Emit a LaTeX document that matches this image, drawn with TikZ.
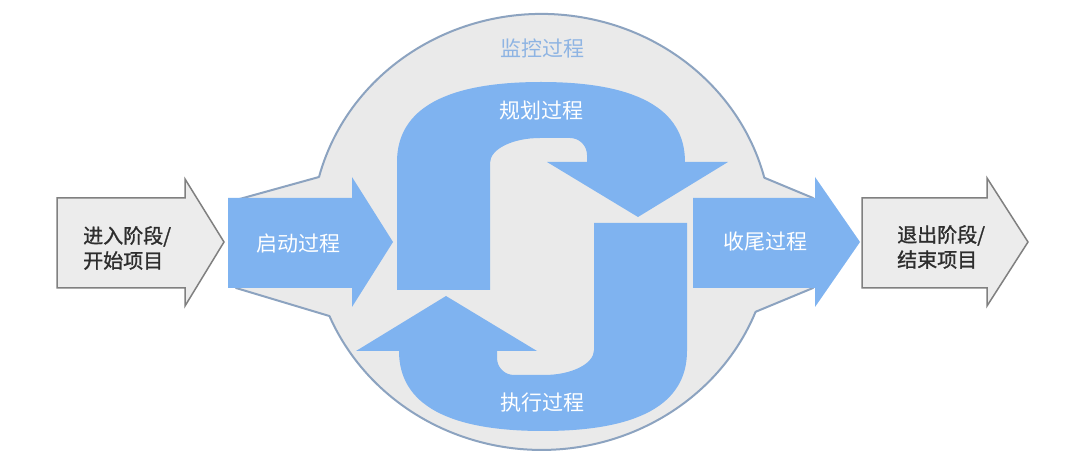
\documentclass[tikz,border=0pt]{standalone}
\usepackage{fontspec}
\newfontfamily\cjk{Noto Sans CJK SC}
\newfontfamily\cjkm{Noto Sans CJK SC}[FakeBold=1.2]
\definecolor{procblue}{RGB}{127,179,240}
\definecolor{monfill}{RGB}{234,234,234}
\definecolor{monline}{RGB}{140,163,192}
\definecolor{monlabel}{RGB}{142,180,227}
\definecolor{phasefill}{RGB}{236,236,236}
\definecolor{phaseline}{RGB}{128,128,128}
\definecolor{darktext}{RGB}{45,45,45}
\tikzset{
  monitor/.style={fill=monfill, draw=monline, line width=2pt, line join=round},
  proc/.style={fill=procblue},
  phase/.style={fill=phasefill, draw=phaseline, line width=1.5pt, line join=miter},
  whitelabel/.style={text=white, font=\cjk\fontsize{21}{24}\selectfont, inner sep=0pt},
  phaselabel/.style={text=darktext, font=\cjkm\fontsize{20}{25}\selectfont, inner sep=0pt, align=left, anchor=west},
  monlabelstyle/.style={text=monlabel, font=\cjk\fontsize{21}{24}\selectfont, inner sep=0pt}
}
\def\SArrowPath{(397,290) -- (397,162) .. controls (397,108) and (447,82) .. (541,82)
  .. controls (635,82) and (685,108) .. (685,162)
  -- (728,162) -- (638,217) -- (547,162) -- (587,162) -- (587,155)
  arc[start angle=0, end angle=-90, radius=17] -- (540,138)
  arc[start angle=270, end angle=180, x radius=50, y radius=25] -- (490,290) -- cycle}
\begin{document}
\begin{tikzpicture}[x=1pt,y=-1pt]
\useasboundingbox[fill=white] (0,0) rectangle (1080,454);
% monitoring area
\path[monitor] (236,200) -- (319,177)
  arc[start angle=194.6, end angle=345.6, x radius=230, y radius=218]
  -- (813,198) -- (813,288) -- (755.6,311.8)
  arc[start angle=21.5, end angle=157.3, x radius=230, y radius=218]
  -- (236,288) -- cycle;
\node[monlabelstyle] (mon) at (542,48) {监控过程};
% planning and executing arrows
\fill[proc] \SArrowPath;
\fill[proc, rotate around={180:(542,256.5)}] \SArrowPath;
\node[whitelabel] (plan) at (541,111) {规划过程};
\node[whitelabel] (exec) at (542,403) {执行过程};
% initiating and closing arrows
\fill[proc] (228,198) -- (352,198) -- (352,177) -- (393,242) -- (352,307) -- (352,288) -- (228,288) -- cycle;
\fill[proc] (693,198) -- (815,198) -- (815,177) -- (860,242) -- (815,307) -- (815,288) -- (693,288) -- cycle;
\node[whitelabel] (init) at (298,244) {启动过程};
\node[whitelabel] (close) at (765,242) {收尾过程};
% phase arrows
\path[phase] (57,198) -- (185,198) -- (185,179) -- (224,242) -- (185,306) -- (185,288) -- (57,288) -- cycle;
\path[phase] (862,198) -- (987,198) -- (987,178) -- (1028,242) -- (987,306) -- (987,288) -- (862,288) -- cycle;
\node[phaselabel] (enter) at (83,248) {进入阶段/\\开始项目};
\node[phaselabel] (exit) at (897,247) {退出阶段/\\结束项目};
\end{tikzpicture}
\end{document}
